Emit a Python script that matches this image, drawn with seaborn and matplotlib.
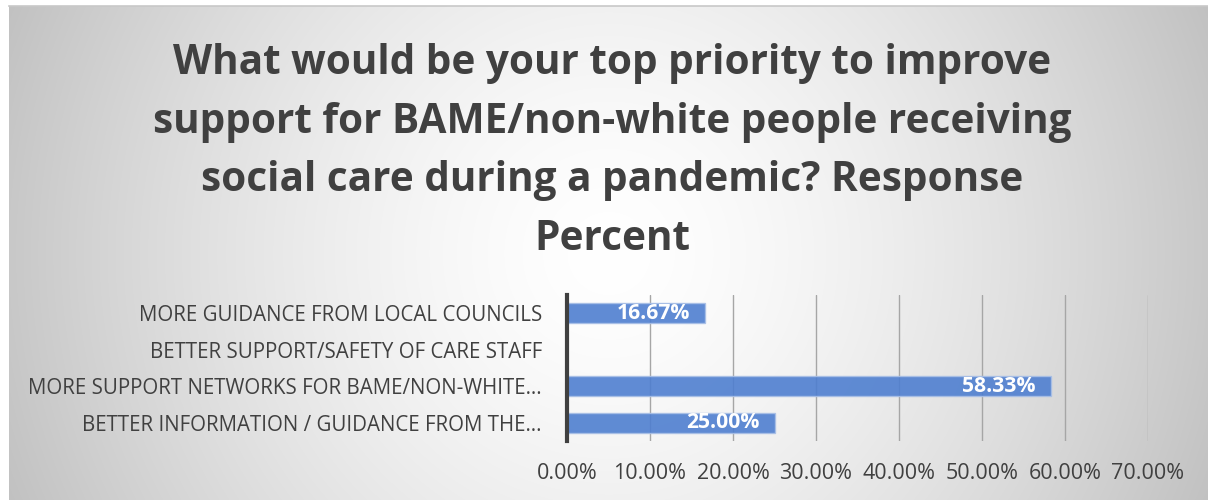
import numpy as np
import pandas as pd
import matplotlib
matplotlib.use("Agg")
import matplotlib.pyplot as plt
import seaborn as sns

# Survey responses (percent of respondents choosing each priority)
categories = [
    "MORE GUIDANCE FROM LOCAL COUNCILS",
    "BETTER SUPPORT/SAFETY OF CARE STAFF",
    "MORE SUPPORT NETWORKS FOR BAME/NON-WHITE…",
    "BETTER INFORMATION / GUIDANCE FROM THE…",
]
percent = [16.67, 0.0, 58.33, 25.00]
x_ticks = [0, 10, 20, 30, 40, 50, 60, 70]
x_tick_labels = [f"{t:.2f}%" for t in x_ticks]

title = ("What would be your top priority to improve\n"
         "support for BAME/non-white people receiving\n"
         "social care during a pandemic? Response\n"
         "Percent")

df = pd.DataFrame({"category": categories, "percent": percent})

sns.set_theme(style="white")
plt.rcParams["font.family"] = ["Open Sans", "DejaVu Sans"]

W, H = 1208, 500
fig = plt.figure(figsize=(W / 100, H / 100), dpi=100)
fig.patch.set_facecolor("white")

# Chart-area background: radial grey-to-white gradient
x0, y0, x1, y1 = 9, 6, 1208, 500
bg = fig.add_axes([x0 / W, 1 - y1 / H, (x1 - x0) / W, (y1 - y0) / H])
bw, bh = x1 - x0, y1 - y0
gx, gy = np.meshgrid(np.arange(bw), np.arange(bh))
cx, cy = bw * 0.5, bh * 0.5
d = np.hypot(gx - cx, gy - cy) / 650.0
shade = 255 - 62 * np.clip(d, 0, 1.2) ** 1.5
img = np.dstack([shade, shade, shade]).astype(np.uint8)
bg.imshow(img, aspect="auto", interpolation="bilinear")
bg.set_xticks([])
bg.set_yticks([])
for s in ["left", "bottom", "right"]:
    bg.spines[s].set_visible(False)
bg.spines["top"].set_color("#c8c8c8")
bg.spines["top"].set_linewidth(1.2)
bg.set_zorder(-1)

# Plot area
ax = fig.add_axes([567 / W, 1 - 441 / H, (1148 - 567) / W, (441 - 295) / H])
ax.patch.set_alpha(0)

sns.barplot(data=df, x="percent", y="category", orient="h", order=categories,
            color="#4f7fd0", saturation=1, alpha=0.9, width=0.54,
            edgecolor="#a8bfe6", linewidth=1.0, ax=ax, zorder=3)

ax.set_xlim(0, 70)
ax.set_ylim(3.5, -0.5)
ax.set_xticks(x_ticks)
ax.set_xticklabels(x_tick_labels, fontsize=15.5, color="#404040")
ax.tick_params(axis="x", length=0, pad=16)
ax.tick_params(axis="y", length=0, pad=18, labelsize=14.8, labelcolor="#404040")
ax.set_xlabel("")
ax.set_ylabel("")
ax.grid(axis="x", color="#a6a6a6", linewidth=1.0, zorder=0)
ax.set_axisbelow(True)
for s in ["top", "right", "bottom"]:
    ax.spines[s].set_visible(False)
ax.spines["left"].set_color("#404040")
ax.spines["left"].set_linewidth(3)
ax.spines["left"].set_zorder(5)

# Value labels inside the bar ends
for i, v in enumerate(percent):
    if v > 0:
        ax.annotate(f"{v:.2f}%", xy=(v, i), xytext=(-11, 0), textcoords="offset points",
                    ha="right", va="center", color="white", fontsize=15.2,
                    fontweight="bold", zorder=6)

fig.text(612 / W, 1 - 151.5 / H, title, ha="center", va="center",
         fontsize=29.2, fontweight="bold", color="#404040", linespacing=1.56)

fig.savefig("out.png", dpi=100)
